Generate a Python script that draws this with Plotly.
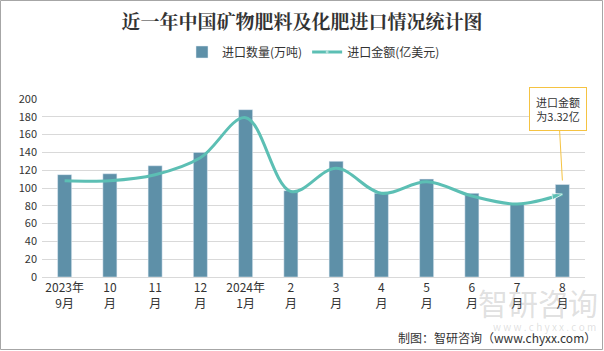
import plotly.graph_objects as go

categories = ["2023年<br>9月", "10<br>月", "11<br>月", "12<br>月", "2024年<br>1月", "2<br>月",
              "3<br>月", "4<br>月", "5<br>月", "6<br>月", "7<br>月", "8<br>月"]
quantity = [115, 116, 125, 140, 188, 97, 130, 94, 110, 94, 83, 104]   # 万吨
amount = [3.86, 3.86, 4.10, 4.78, 6.39, 3.43, 4.36, 3.36, 3.82, 3.25, 2.93, 3.32]  # 亿美元

W, H = 604, 351
ML, MR, MT, MB = 42, 19, 99, 74
font = "Noto Sans CJK SC"

fig = go.Figure()
fig.add_trace(go.Bar(
    x=categories, y=quantity, name="进口数量(万吨)",
    marker=dict(color="#5e90a8"), width=0.31,
))
n = len(amount)
fig.add_trace(go.Scatter(
    x=categories, y=amount, name="进口金额(亿美元)", yaxis="y2",
    mode="lines+markers",
    line=dict(color="#5cbfb4", width=3, shape="spline", smoothing=1.0),
    marker=dict(color="#5cbfb4",
                symbol=["circle"] + ["circle"] * (n - 2) + ["arrow"],
                size=[11] + [0] * (n - 2) + [11],
                angleref="previous"),
))

fig.update_layout(
    width=W, height=H,
    margin=dict(l=ML, r=MR, t=MT, b=MB),
    paper_bgcolor="white", plot_bgcolor="white",
    font=dict(family=font, size=12, color="#333333"),
    title=dict(text="<b>近一年中国矿物肥料及化肥进口情况统计图</b>", x=0.5, xanchor="center",
               y=1 - 22 / H, yanchor="middle",
               font=dict(family="Noto Serif CJK SC, Noto Sans CJK SC", size=19, color="#333333")),
    legend=dict(orientation="h", x=0.5, xanchor="center", y=1 + (MT - 52) / (H - MT - MB),
                yanchor="middle", font=dict(size=12, color="#333333"), itemwidth=30,
                traceorder="normal"),
    showlegend=True,
    xaxis=dict(type="category", range=[-0.5, len(categories) - 0.5], autorange=False,
               showline=True, linecolor="#d9d9d9", linewidth=1,
               ticks="", tickfont=dict(size=12, color="#333333"), showgrid=False),
    yaxis=dict(range=[0, 200], dtick=20, showgrid=True, gridcolor="#d9d9d9", gridwidth=1,
               zeroline=False, showline=False, tickfont=dict(size=11, color="#333333"),
               ticklabelstandoff=4),
    yaxis2=dict(range=[0, 7.14], overlaying="y", side="right", visible=False, showgrid=False),
)

pw, ph = W - ML - MR, H - MT - MB
# page border
fig.add_shape(type="rect", xref="paper", yref="paper",
              x0=(-ML + 0.5) / pw, x1=1 + (MR - 1.5) / pw,
              y0=(-MB + 1.5) / ph, y1=1 + (MT - 0.5) / ph,
              line=dict(color="#a6a6a6", width=1), fillcolor="rgba(0,0,0,0)", layer="above")

# callout
fig.add_annotation(x=categories[-1], y=amount[-1] + 0.55, yref="y2",
                   text="进口金额<br>为3.32亿", showarrow=True, arrowhead=0,
                   arrowcolor="#f5c342", arrowwidth=1, ax=-4, ay=-72,
                   bordercolor="#f5c342", borderwidth=1, bgcolor="white", borderpad=6,
                   font=dict(size=11, color="#333333"))

# watermark
fig.add_annotation(xref="paper", yref="paper", x=1 + (MR - 4) / pw, y=(H - MB - 302) / ph,
                   text="智研咨询", showarrow=False, xanchor="right", yanchor="middle",
                   font=dict(size=30, color="rgba(150,150,150,0.3)"))
fig.add_annotation(xref="paper", yref="paper", x=1 + (MR - 6) / pw, y=(H - MB - 326) / ph,
                   text="w w w . c h y x x . c o m", showarrow=False, xanchor="right", yanchor="middle",
                   font=dict(size=10, color="rgba(150,150,150,0.3)"))
# source
fig.add_annotation(xref="paper", yref="paper", x=1 + (MR - 6) / pw, y=(H - MB - 337) / ph,
                   text="制图：智研咨询（www.chyxx.com）", showarrow=False, xanchor="right",
                   yanchor="middle", font=dict(size=12, color="#333333"))

fig.write_html("out.html")
